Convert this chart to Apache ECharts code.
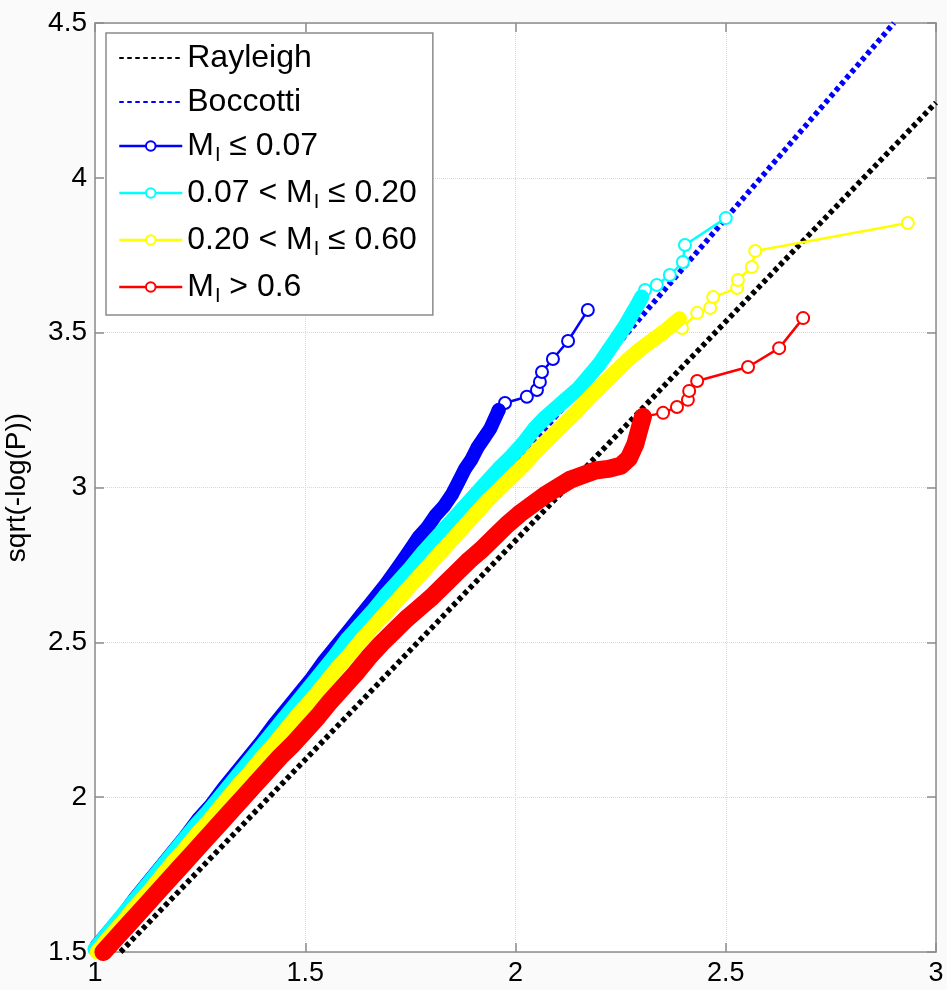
<!DOCTYPE html>
<html>
<head>
<meta charset="utf-8">
<script src="https://cdn.jsdelivr.net/npm/echarts@6/dist/echarts.min.js"></script>
<style>
html, body { margin: 0; padding: 0; background: #fafafa; }
#chart { width: 947px; height: 990px; }
</style>
</head>
<body>
<div id="chart"></div>
<script>
// Axis ranges and ticks
const xTicks = [1, 1.5, 2, 2.5, 3];
const yTicks = [1.5, 2, 2.5, 3, 3.5, 4, 4.5];

// Legend / series labels
const names = ['Rayleigh', 'Boccotti', 'M_I ≤ 0.07', '0.07 < M_I ≤ 0.20', '0.20 < M_I ≤ 0.60', 'M_I > 0.6'];

// Theoretical distributions (straight lines, end points)
const rayleighLine = [[1.0607, 1.5], [3.0, 4.243]];
const boccottiLine = [[1.0, 1.5], [2.9, 4.5]];

// M_I <= 0.07 : dense body and sparse upper tail
const blueBody = [[1.004,1.52],[1.035,1.57],[1.066,1.62],[1.096,1.675],[1.126,1.725],[1.156,1.775],[1.186,1.825],[1.216,1.875],[1.246,1.93],[1.276,1.975],[1.306,2.03],[1.336,2.08],[1.366,2.13],[1.396,2.18],[1.426,2.235],[1.456,2.285],[1.486,2.335],[1.516,2.385],[1.545,2.44],[1.575,2.49],[1.605,2.54],[1.634,2.59],[1.664,2.64],[1.693,2.69],[1.722,2.745],[1.75,2.80],[1.77,2.84],[1.79,2.87],[1.81,2.91],[1.83,2.94],[1.85,2.98],[1.865,3.02],[1.88,3.06],[1.895,3.09],[1.91,3.13],[1.925,3.16],[1.94,3.19],[1.95,3.22],[1.96,3.25]];
const blueTail = [[1.96,3.25],[1.975,3.273],[2.027,3.293],[2.051,3.315],[2.058,3.341],[2.063,3.373],[2.089,3.415],[2.125,3.473],[2.172,3.573]];

// 0.07 < M_I <= 0.20
const cyanBody = [[1.0,1.51],[1.03,1.56],[1.06,1.61],[1.09,1.66],[1.12,1.71],[1.15,1.76],[1.18,1.81],[1.21,1.86],[1.24,1.91],[1.27,1.955],[1.30,2.005],[1.33,2.055],[1.36,2.105],[1.39,2.155],[1.42,2.205],[1.45,2.255],[1.48,2.305],[1.51,2.355],[1.54,2.405],[1.57,2.455],[1.60,2.51],[1.63,2.555],[1.66,2.60],[1.69,2.65],[1.72,2.695],[1.75,2.74],[1.78,2.79],[1.81,2.835],[1.84,2.88],[1.87,2.925],[1.90,2.97],[1.93,3.015],[1.96,3.06],[1.99,3.10],[2.02,3.145],[2.045,3.19],[2.07,3.225],[2.095,3.255],[2.12,3.285],[2.15,3.32],[2.175,3.36],[2.20,3.40],[2.22,3.44],[2.24,3.48],[2.26,3.52],[2.275,3.555],[2.29,3.59],[2.30,3.615]];
const cyanTail = [[2.30,3.615],[2.308,3.638],[2.336,3.654],[2.367,3.686],[2.398,3.728],[2.403,3.783],[2.50,3.870]];

// 0.20 < M_I <= 0.60
const yellowBody = [[1.005,1.50],[1.035,1.55],[1.065,1.595],[1.095,1.645],[1.125,1.69],[1.155,1.74],[1.185,1.79],[1.215,1.835],[1.245,1.885],[1.275,1.93],[1.305,1.98],[1.335,2.03],[1.365,2.075],[1.395,2.125],[1.425,2.17],[1.455,2.22],[1.485,2.27],[1.515,2.315],[1.545,2.365],[1.575,2.415],[1.605,2.46],[1.635,2.51],[1.665,2.555],[1.695,2.60],[1.725,2.645],[1.755,2.69],[1.785,2.735],[1.815,2.78],[1.845,2.825],[1.875,2.87],[1.905,2.915],[1.935,2.96],[1.965,3.00],[1.995,3.04],[2.025,3.08],[2.055,3.125],[2.085,3.165],[2.115,3.205],[2.145,3.245],[2.175,3.29],[2.205,3.33],[2.235,3.37],[2.265,3.41],[2.295,3.445],[2.325,3.475],[2.355,3.505],[2.39,3.545]];
const yellowTail = [[2.39,3.545],[2.396,3.515],[2.432,3.564],[2.463,3.58],[2.47,3.615],[2.527,3.644],[2.529,3.67],[2.562,3.712],[2.57,3.764],[2.933,3.854]];

// M_I > 0.6
const redBody = [[1.02,1.50],[1.05,1.545],[1.08,1.59],[1.11,1.635],[1.14,1.68],[1.17,1.725],[1.20,1.77],[1.23,1.815],[1.26,1.86],[1.29,1.905],[1.32,1.95],[1.35,1.995],[1.38,2.04],[1.41,2.085],[1.44,2.13],[1.47,2.17],[1.50,2.215],[1.53,2.26],[1.56,2.31],[1.59,2.355],[1.62,2.40],[1.65,2.45],[1.68,2.495],[1.71,2.535],[1.74,2.575],[1.77,2.61],[1.80,2.645],[1.83,2.685],[1.86,2.725],[1.89,2.765],[1.92,2.80],[1.95,2.84],[1.98,2.88],[2.01,2.915],[2.04,2.945],[2.07,2.975],[2.10,3.00],[2.13,3.025],[2.16,3.04],[2.19,3.055],[2.22,3.06],[2.25,3.07],[2.27,3.095],[2.285,3.14],[2.295,3.19],[2.303,3.228]];
const redTail = [[2.303,3.228],[2.351,3.241],[2.384,3.26],[2.41,3.283],[2.413,3.312],[2.432,3.344],[2.553,3.389],[2.627,3.45],[2.684,3.547]];

const colors = { blue: '#0000ff', cyan: '#00ffff', yellow: '#ffff00', red: '#ff0000' };
const FONT = 'Liberation Sans, Arial, sans-serif';
const AXIS_GREY = '#8c8c8c';

function refLine(name, data, color, z) {
  return {
    name, type: 'line', data, symbol: 'none', silent: true, z,
    lineStyle: { color, width: 5.5, type: [4.5, 3.5] },
    itemStyle: { color }
  };
}
// Sparse upper points: open circles joined by a thin line
function tail(name, data, color, z) {
  return {
    name, type: 'line', data, symbol: 'emptyCircle', symbolSize: 12, showAllSymbol: true, z,
    lineStyle: { color, width: 2.5 },
    itemStyle: { color, borderColor: color, borderWidth: 2.5 }
  };
}
// Dense lower points: the overlapping markers merge into one solid band
function body(name, data, color, width, z) {
  return {
    name, type: 'line', data, symbol: 'circle', symbolSize: width - 1, showAllSymbol: true, z,
    lineStyle: { color, width, cap: 'round', join: 'round' },
    itemStyle: { color, borderWidth: 0 }
  };
}

// Turn "M_I" into M with a subscript I, using rich text tokens
function legendLabel(name) {
  const parts = name.split('M_I');
  if (parts.length === 1) return '{p|' + name + '}';
  return (parts[0] ? '{t|' + parts[0] + '}' : '') + '{t|M}{s|I}' + (parts[1] ? '{t|' + parts[1] + '}' : '');
}

function yAxisDef(position, showLabel) {
  return {
    type: 'value', position, min: 1.5, max: 4.5, interval: 0.5,
    name: showLabel ? 'sqrt(-log(P))' : '',
    nameLocation: 'middle', nameGap: 64, nameRotate: 90,
    nameTextStyle: { fontSize: 28, color: '#000', fontFamily: FONT },
    axisLine: { show: true, lineStyle: { color: AXIS_GREY, width: 1.5 } },
    axisTick: { show: true, inside: true, length: 9, lineStyle: { color: AXIS_GREY, width: 1.5 } },
    axisLabel: { show: showLabel, color: '#000', fontSize: 28, fontFamily: FONT, margin: 8 },
    splitLine: { show: showLabel, lineStyle: { color: '#d8d8d8', type: 'dotted', width: 1 } }
  };
}
function xAxisDef(position, showLabel) {
  return {
    type: 'value', position, min: 1, max: 3, interval: 0.5,
    axisLine: { show: true, lineStyle: { color: AXIS_GREY, width: 1.5 } },
    axisTick: { show: true, inside: true, length: 9, lineStyle: { color: AXIS_GREY, width: 1.5 } },
    axisLabel: { show: showLabel, color: '#000', fontSize: 27, fontFamily: FONT, margin: 8 },
    splitLine: { show: showLabel, lineStyle: { color: '#d8d8d8', type: 'dotted', width: 1 } }
  };
}

const lineOnly = { lineStyle: { width: 2.5 } };
const noMarker = { itemStyle: { opacity: 0 } };

const chart = echarts.init(document.getElementById('chart'), null, { renderer: 'canvas' });
chart.setOption({
  animation: false,
  backgroundColor: '#fafafa',
  grid: {
    left: 95, right: 11, top: 23, bottom: 38, outerBoundsMode: 'none',
    show: true, backgroundColor: '#fff', borderWidth: 0
  },
  xAxis: [xAxisDef('bottom', true), xAxisDef('top', false)],
  yAxis: [yAxisDef('left', true), yAxisDef('right', false)],
  legend: {
    orient: 'vertical', left: 106, top: 33, z: 20,
    padding: [9, 16, 9, 12], itemGap: 12, itemWidth: 63, itemHeight: 12,
    backgroundColor: '#fff', borderColor: AXIS_GREY, borderWidth: 1.5,
    selectedMode: false,
    data: [
      Object.assign({ name: names[0] }, noMarker),
      Object.assign({ name: names[1] }, noMarker),
      Object.assign({ name: names[2] }, lineOnly),
      Object.assign({ name: names[3] }, lineOnly),
      Object.assign({ name: names[4] }, lineOnly),
      Object.assign({ name: names[5] }, lineOnly)
    ],
    formatter: legendLabel,
    textStyle: {
      color: '#000', fontFamily: FONT, fontSize: 32,
      rich: {
        p: { fontSize: 32, lineHeight: 30, fontFamily: FONT, color: '#000' },
        t: { fontSize: 32, lineHeight: 30, fontFamily: FONT, color: '#000', verticalAlign: 'middle' },
        s: { fontSize: 20, lineHeight: 38, fontFamily: FONT, color: '#000', verticalAlign: 'bottom', padding: [0, 0, 0, 1] }
      }
    }
  },
  // Each data series gets its own z so that its markers never sit on top of a later series
  series: [
    refLine(names[0], rayleighLine, '#000000', 2),
    refLine(names[1], boccottiLine, colors.blue, 2),
    tail(names[2], blueTail, colors.blue, 3),
    body(names[2], blueBody, colors.blue, 14, 4),
    tail(names[3], cyanTail, colors.cyan, 5),
    body(names[3], cyanBody, colors.cyan, 15, 6),
    tail(names[4], yellowTail, colors.yellow, 7),
    body(names[4], yellowBody, colors.yellow, 15, 8),
    tail(names[5], redTail, colors.red, 9),
    body(names[5], redBody, colors.red, 18, 10)
  ]
});
</script>
</body>
</html>
